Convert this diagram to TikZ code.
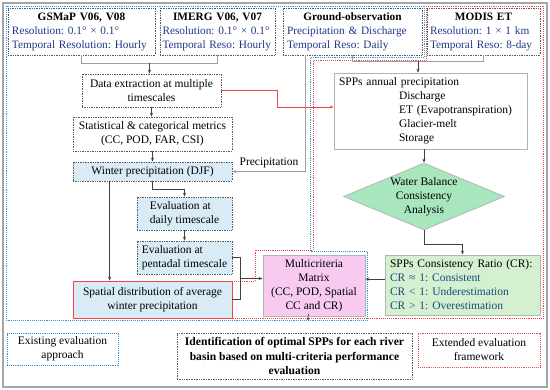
\documentclass[tikz,border=0pt]{standalone}
\usepackage{fontspec}
\setmainfont{Liberation Serif}
\usetikzlibrary{shapes.geometric,arrows.meta,calc}
\frenchspacing

\definecolor{srcblue}{RGB}{31,56,140}
\definecolor{crblue}{RGB}{25,75,125}
\definecolor{wfill}{RGB}{218,235,248}
\definecolor{mfill}{RGB}{248,202,240}
\definecolor{dfill}{RGB}{168,230,190}
\definecolor{cfill}{RGB}{213,240,208}
\definecolor{frblue}{RGB}{40,150,230}
\definecolor{frred}{RGB}{240,70,70}

\newcommand{\srchead}[1]{\makebox[\hsize][c]{\textbf{#1}}}

\tikzset{
  txt/.style={font=\fontsize{11.5}{14}\selectfont},
  srcbox/.style={font=\fontsize{11.3}{14}\selectfont, draw=gray!70!black, densely dotted,
                 line width=0.7pt, fill=white, inner xsep=4pt, inner ysep=2pt,
                 align=left, minimum height=47pt},
  procbox/.style={txt, draw=gray!70!black, densely dotted, line width=0.7pt,
                  fill=white, align=center, inner sep=2pt},
  winbox/.style={procbox, fill=wfill},
  solidbox/.style={txt, draw=gray!60, line width=0.7pt, fill=white, inner sep=2pt},
  legbox/.style={txt, densely dotted, line width=0.9pt, fill=white, align=center},
  conn/.style={draw=black!75, line width=0.6pt},
  arr/.style={conn, -{Stealth[length=4pt,width=3pt]}},
  merge/.style={draw=gray!75, line width=1.2pt},
  frame blue/.style={draw=frblue, densely dotted, line width=0.9pt},
  frame red/.style={draw=frred, densely dotted, line width=0.9pt},
}

\begin{document}
\begin{tikzpicture}[x=1pt, y=-1pt]
  % 1 unit = 1 px of the 550 x 390 layout, y grows downwards
  \useasboundingbox (0,0) rectangle (550,390);

  % ---- outer frame and the two evaluation frames ----
  \draw[gray!70, line width=1.2pt] (3,3) rectangle (547,387);
  \draw[frame blue] (6.5,6) -- (424,6) -- (424,57.5) -- (310,57.5) -- (310,251)
        -- (367,251) -- (367,320.5) -- (6.5,320.5) -- cycle;
  \draw[frame red] (426,6) -- (543.5,6) -- (543.5,318) -- (73,318) -- (73,281)
        -- (255,281) -- (255,250) -- (313,250) -- (313,60.5) -- (426,60.5) -- cycle;

  % ---- data sources (top row) ----
  \node[srcbox, text width=139pt] (gsmap) at (81.5,31.5)
    {\srchead{GSMaP V06, V08}\\ \textcolor{srcblue}{Resolution: 0.1° × 0.1°}\\
     \textcolor{srcblue}{Temporal Resolution: Hourly}};
  \node[srcbox, text width=110pt, inner xsep=2.5pt] (imerg) at (217.5,31.5)
    {\srchead{IMERG V06, V07}\\ \textcolor{srcblue}{Resolution: 0.1° × 0.1°}\\
     \textcolor{srcblue}{Temporal Reso: Hourly}};
  \node[srcbox, text width=131pt] (ground) at (352.5,31.5)
    {\srchead{Ground-observation}\\ \textcolor{srcblue}{Precipitation \& Discharge}\\
     \textcolor{srcblue}{Temporal Reso: Daily}};
  \node[srcbox, text width=107pt, inner xsep=3pt] (modis) at (483.5,31.5)
    {\srchead{MODIS ET}\\ \textcolor{srcblue}{Resolution: 1 × 1 km}\\
     \textcolor{srcblue}{Temporal Reso: 8-day}};

  % ---- existing evaluation approach (left column) ----
  \node[procbox, minimum width=139pt, minimum height=33pt] (extract) at (151.5,90.5)
    {Data extraction at multiple\\timescales};
  \node[procbox, minimum width=159pt, minimum height=34pt] (stats) at (152.5,134)
    {Statistical \& categorical metrics\\(CC, POD, FAR, CSI)};
  \node[winbox, minimum width=159pt, minimum height=19pt] (winter) at (152.5,171.5)
    {Winter precipitation (DJF)};
  \node[winbox, align=left, minimum width=95pt, minimum height=33pt] (daily) at (184.5,213.5)
    {Evaluation at\\daily timescale};
  \node[winbox, align=left, minimum width=95pt, minimum height=33pt] (pentad) at (184.5,257.5)
    {Evaluation at\\pentadal timescale};
  \node[winbox, draw=frred, solid, minimum width=159pt, minimum height=37pt] (spatial) at (152.5,299.5)
    {Spatial distribution of average\\winter precipitation};

  % ---- extended evaluation framework (right column) ----
  \node[solidbox, align=left, text width=183pt, inner xsep=5pt, minimum height=76pt] (annual) at (430.5,111)
    {SPPs annual precipitation\\ \hspace*{60pt}Discharge\\ \hspace*{60pt}ET (Evapotranspiration)\\
     \hspace*{60pt}Glacier-melt\\ \hspace*{60pt}Storage};
  \node[txt, diamond, draw=gray!60, line width=0.7pt, fill=dfill, aspect=2.4, inner sep=0pt,
        minimum width=161pt, minimum height=67pt, align=center] (wbal) at (424,196.5)
    {Water Balance\\Consistency\\Analysis};
  \node[solidbox, fill=cfill, align=left, text width=145pt, inner xsep=5pt, minimum height=60pt] (ratio) at (462.5,285)
    {SPPs Consistency Ratio (CR):\\ \textcolor{crblue}{CR ≈ 1: Consistent}\\
     \textcolor{crblue}{CR < 1: Underestimation}\\ \textcolor{crblue}{CR > 1: Overestimation}};
  \node[solidbox, fill=mfill, align=center, minimum width=102pt, minimum height=61pt] (matrix) at (314,285.5)
    {Multicriteria\\Matrix\\(CC, POD, Spatial\\CC and CR)};

  % ---- result and legend ----
  \node[procbox, font=\fontsize{11.6}{14.5}\selectfont\bfseries, minimum width=235pt, minimum height=46pt] (ident) at (294.5,356)
    {Identification of optimal SPPs for each river\\basin based on multi-criteria performance\\evaluation};
  \node[legbox, draw=frblue, minimum width=111pt, minimum height=32pt] (legexist) at (62.5,349)
    {Existing evaluation\\approach};
  \node[legbox, draw=frred, minimum width=122pt, minimum height=34pt] (legext) at (479,350)
    {Extended evaluation\\framework};

  % ---- connectors ----
  \coordinate (gijoin) at ($(gsmap.south)!0.5!(imerg.south)+(0,8)$);
  \draw[merge] (gsmap.south) -- ++(0,8) -| (imerg.south);
  \draw[arr] (gijoin) -- (gijoin |- extract.north);
  \coordinate (gmjoin) at ($(ground.south)!0.5!(modis.south)+(0,6)$);
  \draw[merge] (ground.south) -- ++(0,6) -| (modis.south);
  \draw[arr] (gmjoin) -- (gmjoin |- annual.north);

  \coordinate (gprec) at ($(ground.south west)+(23,0)$);
  \draw[merge, -{Stealth[length=4pt,width=3pt]}] (gprec) |- node[txt, pos=0.75, above, text=black] {Precipitation} (winter.east);
  \draw[frred, line width=0.6pt, -{Stealth[length=4pt,width=3pt]}] (extract.east) -- ++(56,0) |- ($(annual.west)+(0,-4)$);

  \draw[arr] (extract.south) -- (extract.south |- stats.north);
  \draw[arr] (stats.south) -- (stats.south |- winter.north);
  \draw[arr] (winter.south) -- ++(0,8) -| (daily.north);
  \draw[arr] (daily.south) -- (pentad.north);
  \draw[arr] ($(winter.south west)+(37,0)$) -- ($(spatial.north west)+(37,0)$);
  \draw[conn] (pentad.east) -- ++(8,0) |- (spatial.east);
  \coordinate (brk) at ($(pentad.east)!0.5!(spatial.east)+(8,0)$);
  \draw[arr] (brk) -- (brk -| matrix.west);

  \draw[arr] (wbal.north |- annual.south) -- (wbal.north);
  \draw[arr] (wbal.south) -- ++(0,14) -| (ratio.north);
  \coordinate (rin) at ($(ratio.west)+(0,-6)$);
  \draw[arr] (rin) -- (rin -| matrix.east);
  \draw[arr] ($(matrix.south)+(-6,0)$) -- ($(matrix.south)+(-6,0)$ |- ident.north);
\end{tikzpicture}
\end{document}
